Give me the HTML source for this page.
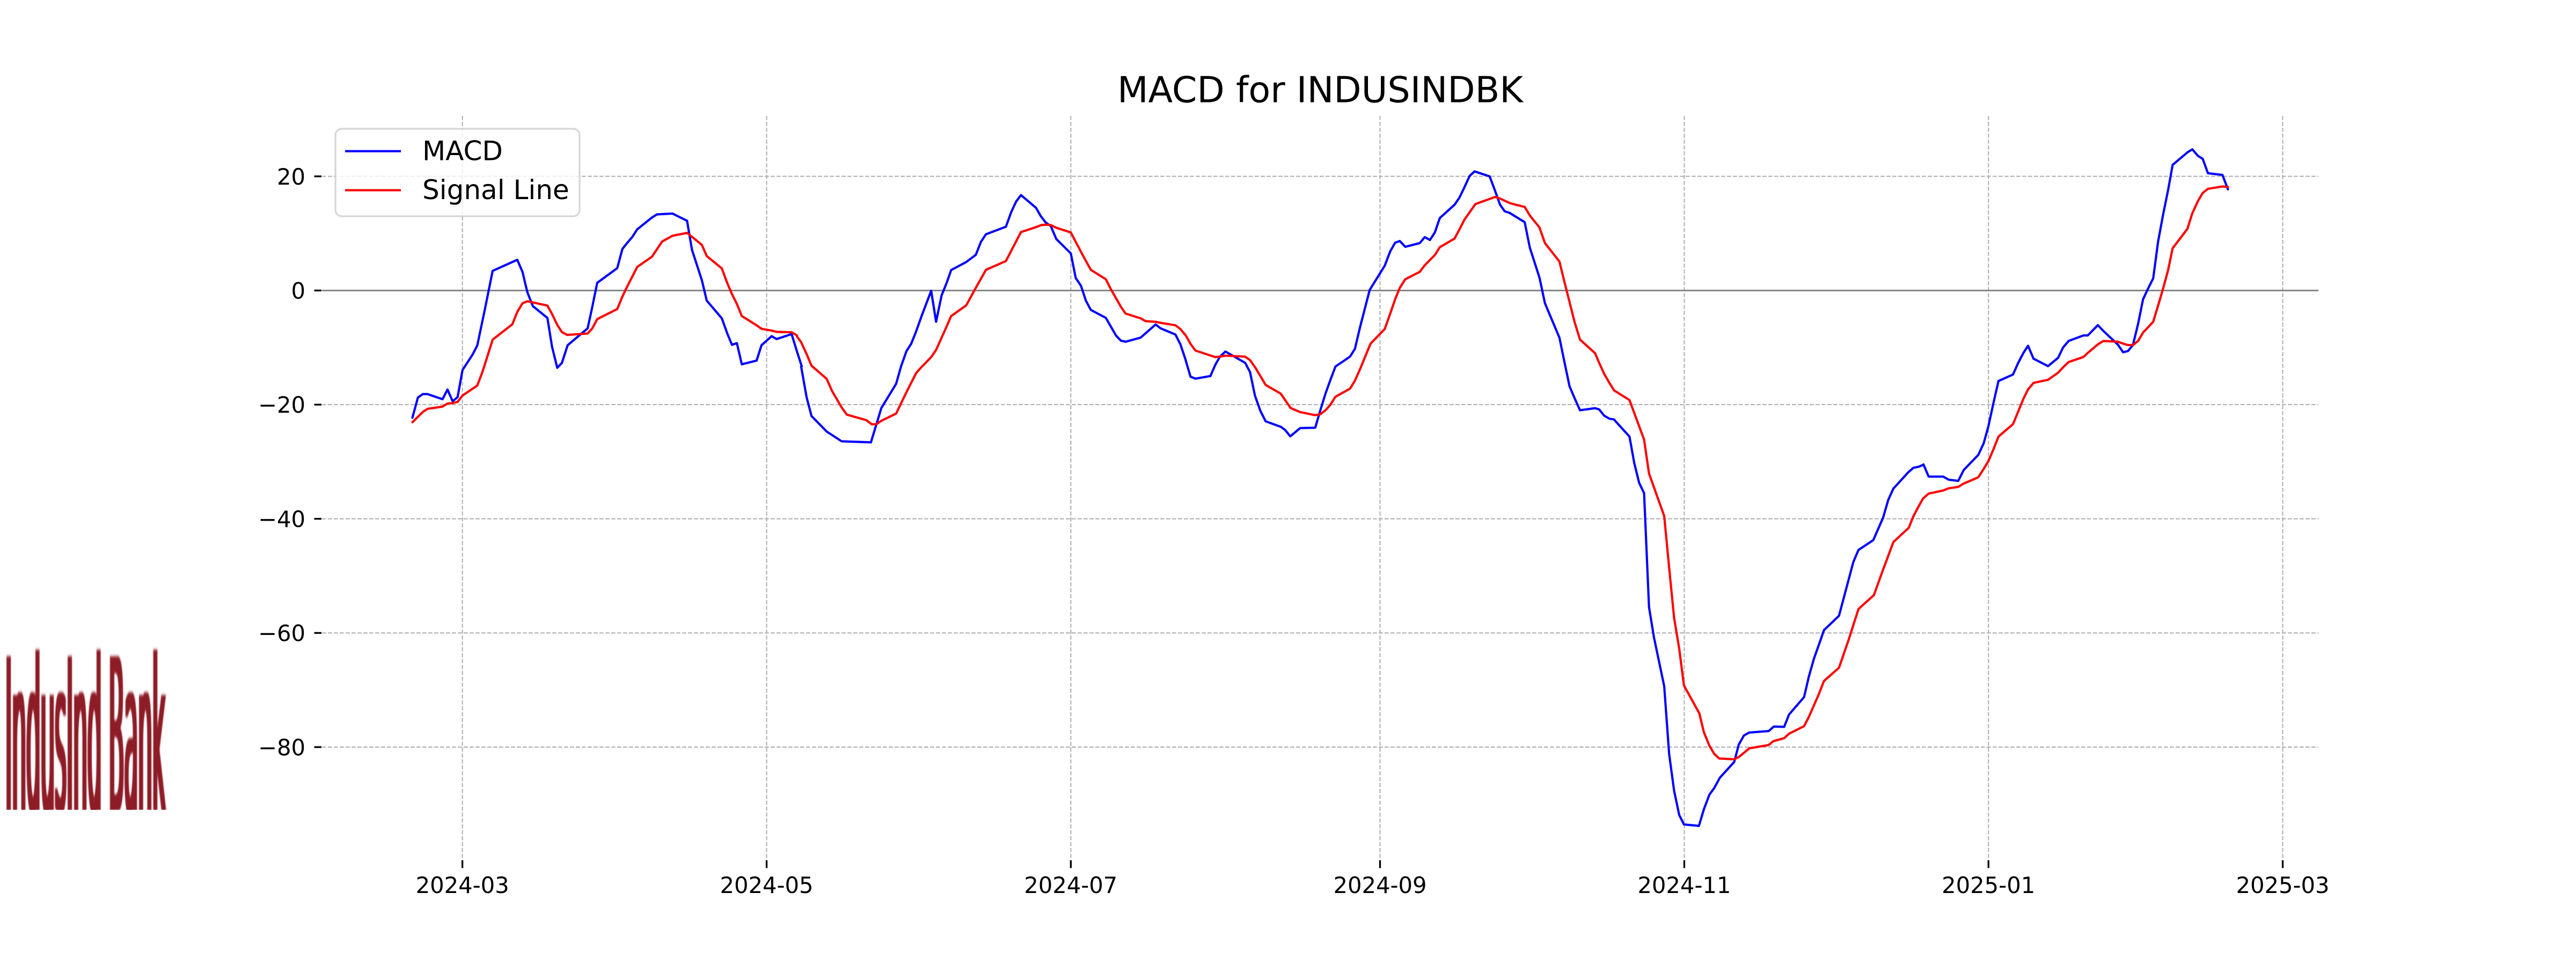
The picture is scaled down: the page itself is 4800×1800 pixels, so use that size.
<!DOCTYPE html>
<html>
<head>
<meta charset="utf-8">
<style>
html,body{margin:0;padding:0;background:#fff;}
svg{display:block;}
</style>
</head>
<body>
<svg xmlns="http://www.w3.org/2000/svg" width="4800" height="1800" viewBox="0 0 4800 1800" font-family="'DejaVu Sans', 'Liberation Sans', sans-serif">
<rect x="0" y="0" width="4800" height="1800" fill="#ffffff"/>
<defs>
  <filter id="thick" x="-5%" y="-5%" width="110%" height="110%">
    <feMorphology operator="dilate" radius="2.2 0"/>
    <feGaussianBlur stdDeviation="0.8 3"/>
  </filter>
  <clipPath id="lc"><rect x="0" y="1150" width="330" height="359"/></clipPath>
</defs>

<!-- logo -->
<g clip-path="url(#lc)">
  <text x="10" y="1512" font-size="397" textLength="298" lengthAdjust="spacingAndGlyphs" fill="#8E1C26" filter="url(#thick)">IndusInd Bank</text>
</g>

<!-- grid -->
<g stroke="#b0b0b0" stroke-width="2.08" stroke-dasharray="7.7 3.3" fill="none">
  <line x1="861.6" y1="216" x2="861.6" y2="1602"/>
  <line x1="1428.5" y1="216" x2="1428.5" y2="1602"/>
  <line x1="1995.3" y1="216" x2="1995.3" y2="1602"/>
  <line x1="2571.5" y1="216" x2="2571.5" y2="1602"/>
  <line x1="3138.4" y1="216" x2="3138.4" y2="1602"/>
  <line x1="3705.2" y1="216" x2="3705.2" y2="1602"/>
  <line x1="4253.5" y1="216" x2="4253.5" y2="1602"/>
  <line x1="600" y1="328.6" x2="4320" y2="328.6"/>
  <line x1="600" y1="541.3" x2="4320" y2="541.3"/>
  <line x1="600" y1="754.0" x2="4320" y2="754.0"/>
  <line x1="600" y1="966.7" x2="4320" y2="966.7"/>
  <line x1="600" y1="1179.4" x2="4320" y2="1179.4"/>
  <line x1="600" y1="1392.1" x2="4320" y2="1392.1"/>
</g>

<!-- zero line -->
<line x1="600" y1="541.3" x2="4320" y2="541.3" stroke="#808080" stroke-width="2.8"/>

<!-- ticks -->
<g stroke="#000" stroke-width="3.3">
  <line x1="585.5" y1="328.6" x2="599" y2="328.6"/>
  <line x1="585.5" y1="541.3" x2="599" y2="541.3"/>
  <line x1="585.5" y1="754.0" x2="599" y2="754.0"/>
  <line x1="585.5" y1="966.7" x2="599" y2="966.7"/>
  <line x1="585.5" y1="1179.4" x2="599" y2="1179.4"/>
  <line x1="585.5" y1="1392.1" x2="599" y2="1392.1"/>
  <line x1="861.6" y1="1603" x2="861.6" y2="1617.5"/>
  <line x1="1428.5" y1="1603" x2="1428.5" y2="1617.5"/>
  <line x1="1995.3" y1="1603" x2="1995.3" y2="1617.5"/>
  <line x1="2571.5" y1="1603" x2="2571.5" y2="1617.5"/>
  <line x1="3138.4" y1="1603" x2="3138.4" y2="1617.5"/>
  <line x1="3705.2" y1="1603" x2="3705.2" y2="1617.5"/>
  <line x1="4253.5" y1="1603" x2="4253.5" y2="1617.5"/>
</g>

<!-- y tick labels -->
<g font-size="41.67" fill="#000" text-anchor="end">
  <text x="569" y="343.8">20</text>
  <text x="569" y="556.5">0</text>
  <text x="569" y="769.2">−20</text>
  <text x="569" y="981.9">−40</text>
  <text x="569" y="1194.6">−60</text>
  <text x="569" y="1407.3">−80</text>
</g>

<!-- x tick labels -->
<g font-size="41.67" fill="#000" text-anchor="middle">
  <text x="861.6" y="1664">2024-03</text>
  <text x="1428.5" y="1664">2024-05</text>
  <text x="1995.3" y="1664">2024-07</text>
  <text x="2571.5" y="1664">2024-09</text>
  <text x="3138.4" y="1664">2024-11</text>
  <text x="3705.2" y="1664">2025-01</text>
  <text x="4253.5" y="1664">2025-03</text>
</g>

<!-- title -->
<text x="2460" y="190.5" font-size="66.67" text-anchor="middle" fill="#000">MACD for INDUSINDBK</text>

<!-- MACD (blue) -->
<g fill="none" stroke="#0000ff" stroke-width="4.17" stroke-linejoin="round" stroke-linecap="round">
  <g transform="translate(720,300) scale(0.5102,0.38265)">
    <polyline vector-effect="non-scaling-stroke" points="95,1250 115,1152 133,1135 150,1135 205,1160 223,1113 242,1170 260,1150 278,1018 315,942 332,898 360,720 388,535 478,481 497,540 515,640 535,707 588,764 605,905 624,1007 641,983 662,897 735,815 752,710 770,593 843,522 862,428 880,398 898,370 916,333 970,275 988,260 1045,256 1098,291 1116,432 1152,580 1170,680 1225,766 1245,840 1262,895 1280,887 1298,990 1352,972 1370,897 1407,853 1425,867 1480,843 1500,930 1517,1000"/>
  </g>
  <g transform="translate(1480,300) scale(0.5102,0.38265)">
    <polyline vector-effect="non-scaling-stroke" points="25,1000 45,1150 63,1242 118,1317 173,1365 280,1370 318,1203 372,1085 390,1000 410,925 427,890 445,830 465,755 500,632 518,783 538,655 557,592 573,531 628,492 663,457 682,393 700,357 773,320 792,250 810,198 828,166 883,228 900,268 918,299 937,317 957,380 1010,450 1028,570 1047,607 1065,680 1083,725 1138,764 1157,808 1175,850 1193,875 1210,880 1265,860 1320,796 1338,815 1392,845 1410,892 1428,963 1447,1050 1465,1060 1520,1047"/>
  </g>
  <g transform="translate(2240,280) scale(0.5102,0.38265)">
    <polyline vector-effect="non-scaling-stroke" points="30,1100 48,1045 65,1005 85,980 157,1035 175,1080 193,1195 213,1270 232,1320 288,1347 303,1362 322,1393 358,1353 413,1351 432,1265 450,1187 468,1120 487,1053 540,1005 558,967 577,860 612,680 667,562 687,492 705,450 722,442 742,470 795,452 813,423 832,437 850,400 868,330 922,265 940,230 958,180 977,125 995,103 1050,127 1070,198 1088,265 1105,297 1123,305 1178,350 1197,475 1232,620 1252,745 1305,913 1323,1030 1342,1150 1358,1200 1380,1266 1435,1256 1450,1262 1468,1292 1487,1307 1505,1311"/>
  </g>
  <g transform="translate(3000,500) scale(0.38265,0.70153)">
    <polyline vector-effect="non-scaling-stroke" points="20,402 95,447 118,517 142,570 166,597 190,900 214,980 264,1110 288,1290 312,1387 337,1452 360,1477 433,1481 457,1437 484,1398 508,1380 535,1353 605,1311 627,1265 652,1241 678,1233 773,1229 798,1217 848,1218 872,1185 945,1139 968,1085 993,1037 1017,1000 1042,961 1115,923 1185,780 1210,748 1282,722 1330,662 1355,615 1380,585 1452,542 1477,530 1503,527 1525,522"/>
  </g>
  <g transform="translate(3580,230) scale(0.5102,0.44643)">
    <polyline vector-effect="non-scaling-stroke" points="8,1423 27,1474 80,1474 100,1487 135,1492 155,1447 180,1417 208,1384 228,1335 245,1265 263,1170 282,1075 335,1048 355,997 373,958 390,928 410,982 463,1013 500,978 518,935 538,908 592,885 608,885 645,842 665,866 718,923 737,955 755,950 773,925 792,836 810,734 828,690 847,647 865,493 883,382 902,275 918,173 973,120 990,108 1010,135 1028,148 1047,208 1100,215 1120,275"/>
  </g>
</g>

<!-- Signal Line (red) -->
<g fill="none" stroke="#ff0000" stroke-width="4.17" stroke-linejoin="round" stroke-linecap="round">
  <g transform="translate(720,300) scale(0.5102,0.38265)">
    <polyline vector-effect="non-scaling-stroke" points="95,1272 133,1222 150,1207 205,1196 223,1181 242,1179 260,1173 278,1142 297,1125 332,1093 350,1030 362,980 388,870 460,795 478,735 497,693 515,683 588,704 605,745 624,798 641,833 660,847 735,840 752,815 770,770 843,721 862,660 878,615 916,516 970,466 988,430 1007,392 1045,364 1098,350 1152,408 1170,463 1225,523 1245,595 1262,648 1280,696 1298,755 1352,800 1370,817 1407,826 1425,832 1480,834 1500,850"/>
  </g>
  <g transform="translate(1480,300) scale(0.5102,0.38265)">
    <polyline vector-effect="non-scaling-stroke" points="10,855 25,882 45,940 63,997 118,1060 138,1120 173,1200 192,1235 263,1262 283,1282 300,1282 318,1265 372,1230 410,1125 445,1033 465,1003 500,955 518,920 555,810 573,755 628,703 660,625 700,530 773,487 828,346 883,322 902,312 920,310 937,312 957,325 1010,348 1055,462 1083,530 1138,576 1157,626 1193,710 1210,743 1265,766 1283,780 1320,783 1338,788 1392,800 1410,818 1430,850 1447,890 1465,923 1538,955"/>
  </g>
  <g transform="translate(2240,280) scale(0.5102,0.38265)">
    <polyline vector-effect="non-scaling-stroke" points="48,1007 65,1005 85,1000 157,1005 175,1022 195,1060 232,1143 287,1185 323,1255 358,1275 413,1290 432,1285 450,1267 468,1240 487,1200 540,1161 558,1122 578,1062 597,1000 615,942 667,870 687,795 705,725 722,670 742,628 795,592 813,560 850,510 868,472 922,430 940,385 958,338 998,262 1050,237 1070,227 1088,235 1125,258 1178,276 1197,318 1232,376 1252,452 1305,542 1323,640 1342,740 1360,835 1380,922 1435,988 1450,1035 1468,1088 1487,1132 1505,1170"/>
  </g>
  <g transform="translate(3000,500) scale(0.38265,0.70153)">
    <polyline vector-effect="non-scaling-stroke" points="22,325 95,350 166,455 190,545 264,658 288,795 312,928 337,1010 360,1108 435,1182 457,1232 484,1268 508,1290 532,1302 605,1304 627,1298 652,1287 678,1275 773,1266 795,1256 848,1248 872,1236 945,1216 968,1192 1017,1131 1042,1096 1115,1061 1163,985 1210,905 1285,868 1330,800 1380,727 1455,689 1478,658 1503,632 1525,611 1548,600"/>
  </g>
  <g transform="translate(3580,230) scale(0.5102,0.44643)">
    <polyline vector-effect="non-scaling-stroke" points="27,1545 80,1532 100,1523 135,1517 155,1503 178,1492 208,1477 228,1442 245,1410 263,1362 282,1307 335,1255 355,1200 372,1152 390,1110 410,1083 463,1070 500,1040 518,1018 538,996 592,975 608,958 645,922 665,908 718,911 737,919 755,925 773,925 792,908 810,873 847,828 865,760 883,690 902,610 918,521 972,440 990,375 1010,325 1028,290 1047,273 1100,263 1120,265"/>
  </g>
</g>

<!-- legend -->
<rect x="625" y="240" width="455" height="163" rx="12" ry="12" fill="#ffffff" fill-opacity="0.8" stroke="#cccccc" stroke-opacity="0.8" stroke-width="3.3"/>
<line x1="643" y1="281.7" x2="747" y2="281.7" stroke="#0000ff" stroke-width="4.17"/>
<line x1="643" y1="354.4" x2="747" y2="354.4" stroke="#ff0000" stroke-width="4.17"/>
<g font-size="50" fill="#000">
  <text x="787" y="298.6">MACD</text>
  <text x="787" y="371">Signal Line</text>
</g>
</svg>
</body>
</html>
